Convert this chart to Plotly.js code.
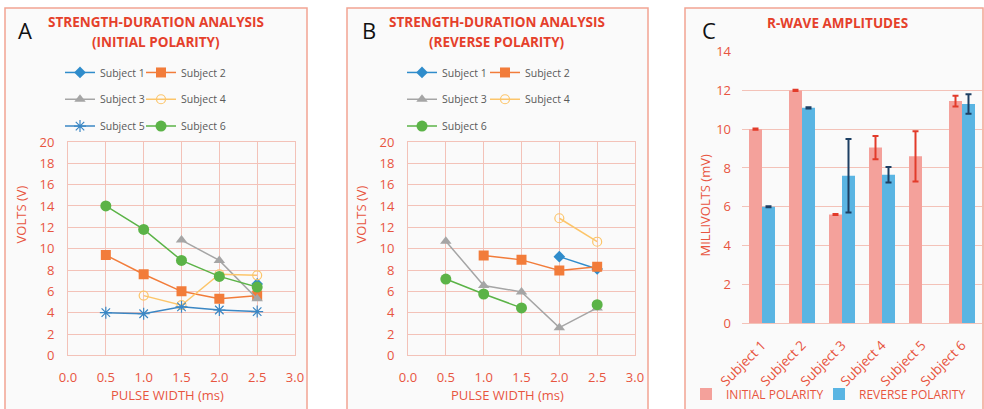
<!DOCTYPE html>
<html><head><meta charset="utf-8">
<script src="https://cdn.plot.ly/plotly-3.0.1.min.js"></script>
<style>html,body{margin:0;padding:0;background:#fff}#chart{width:984px;height:409px}</style>
</head><body><div id="chart"></div>
<script>
// ---------- DATA ----------
const pulseWidths = [0.5, 1.0, 1.5, 2.0, 2.5];
const subjectNames = ['Subject 1', 'Subject 2', 'Subject 3', 'Subject 4', 'Subject 5', 'Subject 6'];

// Panel A: initial polarity (volts)
const initS1 = [null, null, null, null, 6.7];
const initS2 = [9.4, 7.6, 6.0, 5.3, 5.6];
const initS3 = [null, null, 10.8, 8.9, 5.3];
const initS4 = [null, 5.6, 4.7, 7.6, 7.5];
const initS5 = [4.0, 3.9, 4.55, 4.25, 4.1];
const initS6 = [14.0, 11.8, 8.9, 7.4, 6.4];

// Panel B: reverse polarity (volts)
const revS1 = [null, null, null, 9.25, 8.1];
const revS2 = [null, 9.35, 8.95, 7.95, 8.3];
const revS3 = [10.7, 6.55, 5.95, 2.6, 4.45];
const revS4 = [null, null, null, 12.85, 10.65];
const revS6 = [7.15, 5.75, 4.45, null, 4.75];

// Panel C: R-wave amplitudes (mV)
const ampCategories = ['Subject 1', 'Subject 2', 'Subject 3', 'Subject 4', 'Subject 5', 'Subject 6'];
const ampInitial = [10.0, 12.0, 5.6, 9.05, 8.6, 11.45];
const ampInitialErr = [0.03, 0.03, 0.03, 0.6, 1.3, 0.28];
const ampReverse = [6.0, 11.1, 7.6, 7.65, null, 11.3];
const ampReverseErr = [0.03, 0.03, 1.9, 0.4, 0, 0.5];

// ---------- STYLE ----------
const W = 984, H = 409;
const px = v => v / W;
const py = v => 1 - v / H;
const red = '#e8553f';
const titleRed = '#e5402b';
const grid = '#f3c2b8';
const legendGray = '#595959';
const FONT = 'Open Sans, sans-serif';

const cBlue = '#2f8ccb', cOrange = '#f27c3a', cGray = '#a5a5a5', cYellow = '#fcc56a', cBlue2 = '#3b87c4', cGreen = '#5bb347';

function lineTrace(x, y, name, color, symbol, size, xa, ya, legend, extra) {
  const t = {
    type: 'scatter', mode: 'lines+markers', x: x, y: y, name: name, showlegend: true,
    xaxis: xa, yaxis: ya, legend: legend, connectgaps: false,
    line: {color: color, width: 1.5},
    marker: {color: color, symbol: symbol, size: size, line: {color: color, width: 0}}
  };
  if (extra) Object.assign(t.marker, extra);
  return t;
}

const traces = [
  lineTrace(pulseWidths, initS1, subjectNames[0], cBlue, 'diamond', 9, 'x', 'y', 'legend'),
  lineTrace(pulseWidths, initS2, subjectNames[1], cOrange, 'square', 10, 'x', 'y', 'legend2'),
  lineTrace(pulseWidths, initS3, subjectNames[2], cGray, 'triangle-up', 10, 'x', 'y', 'legend3'),
  lineTrace(pulseWidths, initS4, subjectNames[3], cYellow, 'circle-open', 9, 'x', 'y', 'legend4', {line: {color: cYellow, width: 1.2}}),
  lineTrace(pulseWidths, initS5, subjectNames[4], cBlue2, 'asterisk-open', 10, 'x', 'y', 'legend5', {line: {color: cBlue2, width: 1.2}}),
  lineTrace(pulseWidths, initS6, subjectNames[5], cGreen, 'circle', 11, 'x', 'y', 'legend6'),

  lineTrace(pulseWidths, revS1, subjectNames[0], cBlue, 'diamond', 9, 'x2', 'y2', 'legend7'),
  lineTrace(pulseWidths, revS2, subjectNames[1], cOrange, 'square', 10, 'x2', 'y2', 'legend8'),
  lineTrace(pulseWidths, revS3, subjectNames[2], cGray, 'triangle-up', 10, 'x2', 'y2', 'legend9'),
  lineTrace(pulseWidths, revS4, subjectNames[3], cYellow, 'circle-open', 9, 'x2', 'y2', 'legend10', {line: {color: cYellow, width: 1.2}}),
  lineTrace(pulseWidths, revS6, subjectNames[5], cGreen, 'circle', 11, 'x2', 'y2', 'legend11'),

  {type: 'bar', x: ampCategories, y: ampInitial, name: 'INITIAL POLARITY', xaxis: 'x3', yaxis: 'y3', legend: 'legend12', showlegend: true,
   marker: {color: '#f4a19b'},
   error_y: {type: 'data', array: ampInitialErr, visible: true, color: '#e23b2a', thickness: 2, width: 3}},
  {type: 'bar', x: ampCategories, y: ampReverse, name: 'REVERSE POLARITY', xaxis: 'x3', yaxis: 'y3', legend: 'legend13', showlegend: true,
   marker: {color: '#5ab5e3'},
   error_y: {type: 'data', array: ampReverseErr, visible: true, color: '#1d3f63', thickness: 2, width: 3}}
];

const lineXAxis = (d0, d1, anchor) => ({
  domain: [px(d0), px(d1)], anchor: anchor, range: [0, 3], dtick: 0.5, tick0: 0, tickformat: '.1f',
  showgrid: true, gridcolor: grid, gridwidth: 1, zeroline: false,
  showline: true, mirror: true, linecolor: grid, linewidth: 1, ticks: '',
  tickfont: {family: FONT, size: 13, color: red}, ticklabelstandoff: 10, fixedrange: true
});
const lineYAxis = (anchor) => ({
  domain: [py(358), py(143)], anchor: anchor, range: [0, 20], dtick: 2, tick0: 0,
  showgrid: true, gridcolor: grid, gridwidth: 1, zeroline: false,
  showline: true, mirror: true, linecolor: grid, linewidth: 1, ticks: '',
  tickfont: {family: FONT, size: 13, color: red}, ticklabelstandoff: 10, fixedrange: true
});

function leg(textX, y, size, color) {
  return {x: px(textX - 42), y: py(y), xanchor: 'left', yanchor: 'middle', orientation: 'h',
    bgcolor: 'rgba(0,0,0,0)', borderwidth: 0, font: {family: FONT, size: size, color: color}, itemwidth: 30};
}

const rowA = [73, 100, 127];
const colA = [102, 183], colB = [444, 527];
const layout = {
  width: W, height: H, margin: {l: 0, r: 0, t: 0, b: 0},
  paper_bgcolor: '#ffffff', plot_bgcolor: 'rgba(0,0,0,0)',
  font: {family: FONT}, showlegend: true,
  barmode: 'group', bargap: 0.35, bargroupgap: 0,
  xaxis: lineXAxis(68, 295, 'y'),
  yaxis: lineYAxis('x'),
  xaxis2: lineXAxis(408, 635, 'y2'),
  yaxis2: lineYAxis('x2'),
  xaxis3: {domain: [px(742), px(982)], anchor: 'y3', type: 'category', tickangle: -45,
    showgrid: false, zeroline: false, showline: true, linecolor: grid, linewidth: 1, ticks: '',
    tickfont: {family: FONT, size: 13.5, color: red}, ticklabelstandoff: 8, fixedrange: true},
  yaxis3: {domain: [py(325.5), py(52)], anchor: 'x3', range: [0, 14], dtick: 2, tick0: 0,
    showgrid: true, gridcolor: grid, gridwidth: 1, zeroline: false, showline: false, ticks: '',
    tickfont: {family: FONT, size: 13, color: red}, ticklabelstandoff: 10, fixedrange: true},
  legend: leg(colA[0], rowA[0], 10.5, legendGray),
  legend2: leg(colA[1], rowA[0], 10.5, legendGray),
  legend3: leg(colA[0], rowA[1], 10.5, legendGray),
  legend4: leg(colA[1], rowA[1], 10.5, legendGray),
  legend5: leg(colA[0], rowA[2], 10.5, legendGray),
  legend6: leg(colA[1], rowA[2], 10.5, legendGray),
  legend7: leg(colB[0], rowA[0], 10.5, legendGray),
  legend8: leg(colB[1], rowA[0], 10.5, legendGray),
  legend9: leg(colB[0], rowA[1], 10.5, legendGray),
  legend10: leg(colB[1], rowA[1], 10.5, legendGray),
  legend11: leg(colB[0], rowA[2], 10.5, legendGray),
  legend12: leg(728, 397, 12, red),
  legend13: leg(861, 397, 12, red),
  shapes: [
    {type: 'rect', xref: 'paper', yref: 'paper', x0: px(5), x1: px(307), y0: py(420), y1: py(8), layer: 'below',
     fillcolor: '#fafafa', line: {color: '#f2a493', width: 1.5}},
    {type: 'rect', xref: 'paper', yref: 'paper', x0: px(347), x1: px(648), y0: py(420), y1: py(8), layer: 'below',
     fillcolor: '#fafafa', line: {color: '#f2a493', width: 1.5}},
    {type: 'rect', xref: 'paper', yref: 'paper', x0: px(685), x1: px(983), y0: py(420), y1: py(8), layer: 'below',
     fillcolor: '#fafafa', line: {color: '#f2a493', width: 1.5}}
  ],
  annotations: []
};

function ann(text, x, y, size, color, bold, angle) {
  layout.annotations.push({text: bold ? '<b>' + text + '</b>' : text, x: px(x), y: py(y), xref: 'paper', yref: 'paper',
    xanchor: 'center', yanchor: 'middle', showarrow: false, textangle: angle || 0,
    font: {family: FONT, size: size, color: color}});
}
ann('STRENGTH-DURATION ANALYSIS', 156, 22, 13.5, titleRed, true);
ann('(INITIAL POLARITY)', 156, 42, 13.5, titleRed, true);
ann('STRENGTH-DURATION ANALYSIS', 497, 22, 13.5, titleRed, true);
ann('(REVERSE POLARITY)', 497, 42, 13.5, titleRed, true);
ann('R-WAVE AMPLITUDES', 837, 23, 13.5, titleRed, true);
ann('A', 25, 30, 22, '#111111', false);
ann('B', 369, 30, 22, '#111111', false);
ann('C', 709, 30, 22, '#111111', false);
ann('VOLTS (V)', 21, 216, 13, red, false, -90);
ann('VOLTS (V)', 361, 216, 13, red, false, -90);
ann('MILLIVOLTS (mV)', 705, 207, 13, red, false, -90);
ann('PULSE WIDTH (ms)', 167, 398, 13, red, false);
ann('PULSE WIDTH (ms)', 507, 398, 13, red, false);

Plotly.newPlot('chart', traces, layout, {staticPlot: true, displayModeBar: false});
</script></body></html>
